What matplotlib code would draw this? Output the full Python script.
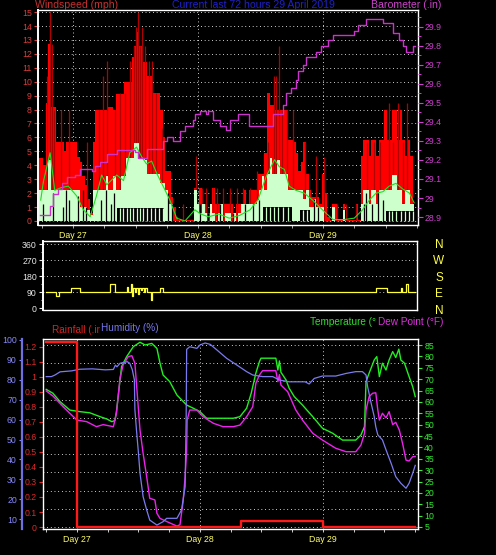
import numpy as np
import matplotlib
matplotlib.use('Agg')
import matplotlib.pyplot as plt
from matplotlib.transforms import blended_transform_factory

plt.rcParams['font.family'] = ['Liberation Sans', 'DejaVu Sans']

# ---------------- data (hours from Day 27 00:00) ----------------
# half-hourly wind samples starting at -6.5 h
wind_gust = [4.5, 4.5, 4.0, 8.5, 12.7, 8.2, 8.2, 5.7, 5.7, 5.7, 5.0, 5.7, 5.7,
             5.7, 5.7, 4.6, 4.2, 3.2, 2.6, 1.6, 0.6, 5.7, 8.0, 8.0, 8.0,
             8.0, 8.0, 8.2, 8.2, 8.0, 9.1, 9.1, 9.1, 10.0, 10.0, 10.0, 11.8,
             12.6, 13.6, 12.6, 11.4, 11.4, 10.4, 10.4, 9.2, 9.2, 9.2, 8.0, 6.0,
             3.6, 3.6, 1.7, 1.0, 0.3, 0.1, 0.1, 0.1, 0.1, 0.1, 0.1, 2.4,
             1.2, 2.4, 1.2, 1.2, 0.6, 1.2, 2.4, 1.2, 1.2, 0.6, 1.2, 1.2,
             1.2, 1.2, 0.6, 1.2, 1.2, 1.2, 2.2, 1.2, 2.2, 2.2, 2.2, 3.4,
             3.4, 3.4, 4.9, 9.2, 8.3, 8.3, 8.0, 8.0, 8.0, 8.0, 8.0, 5.8,
             5.8, 5.7, 4.9, 3.6, 4.2, 5.7, 3.4, 2.2, 1.7, 1.7, 1.7, 1.2,
             3.4, 2.0, 0.3, 0.1, 1.2, 1.2, 0.1, 0.1, 1.2, 0.1, 0.1, 0.1,
             0.1, 1.2, 0.1, 4.7, 5.8, 5.8, 4.7, 5.8, 5.8, 4.7, 5.8, 5.8,
             8.0, 5.8, 5.8, 8.0, 8.0, 5.8, 8.0, 5.8, 4.7, 5.8, 4.7, 1.2]
wind_speed = [2.2, 2.2, 2.2, 2.2, 4.4, 2.2, 2.2, 2.2, 2.2, 2.2, 2.2, 2.2, 2.2,
              2.2, 2.2, 2.2, 1.0, 1.0, 1.0, 0.8, 0.4, 2.2, 2.2, 2.2, 2.2,
              2.2, 3.2, 2.2, 2.2, 3.2, 2.2, 2.2, 3.2, 3.2, 4.5, 4.5, 4.5,
              5.6, 5.6, 4.5, 4.5, 4.4, 3.4, 3.4, 3.4, 3.4, 3.4, 2.7, 2.7,
              2.2, 1.2, 1.2, 0.0, 0.0, 0.0, 0.0, 0.0, 0.0, 0.0, 0.0, 2.2,
              1.2, 0.6, 1.2, 0.6, 0.0, 1.2, 0.6, 0.0, 0.6, 1.2, 0.0, 0.6,
              0.6, 0.0, 0.6, 0.0, 0.6, 1.2, 1.2, 1.2, 1.2, 1.2, 1.2, 1.5,
              2.2, 3.2, 2.2, 3.4, 4.5, 3.4, 3.4, 4.4, 3.4, 3.4, 3.4, 2.2,
              2.2, 2.2, 2.2, 2.2, 2.2, 1.6, 2.2, 1.0, 1.0, 1.6, 1.0, 1.0,
              1.0, 0.0, 0.0, 0.0, 1.0, 0.0, 0.0, 0.0, 0.8, 0.0, 0.0, 0.0,
              0.0, 0.0, 0.0, 1.2, 2.2, 2.2, 1.2, 2.2, 2.2, 1.2, 2.2, 2.2,
              2.2, 2.2, 2.2, 3.3, 3.3, 2.2, 2.2, 1.2, 2.2, 2.2, 1.2, 1.2]

peak_t = [-5.0, -4.4, -4.1, -3.6, -2.4, -0.8, 2.6, 5.0, 5.8, 6.6, 8.0, 9.0, 10.0, 11.0,
          11.7, 12.1, 12.4, 12.8, 13.2, 13.8, 14.5, 15.2, 16.0, 17.1, 21.2, 23.6,
          24.8, 25.6, 26.9, 27.7, 28.8, 30.1, 31.4, 32.7, 34.0, 35.3, 37.5, 38.5,
          39.0, 39.5, 40.2, 41.0, 42.2, 44.5, 46.6, 48.2, 50.6, 52.5, 54.4, 56.5,
          57.8, 59.0, 60.7, 61.5, 62.4, 63.3, 64.1]
peak_v = [10.4, 15.0, 12.7, 8.0, 8.0, 8.0, 5.7, 8.0, 10.4, 11.5, 8.0, 9.2, 9.2, 11.5,
          12.6, 13.9, 15.0, 12.6, 13.9, 12.6, 11.5, 11.5, 9.2, 6.7, 1.2, 4.7,
          2.4, 2.4, 2.4, 2.4, 2.4, 2.4, 2.4, 2.4, 2.4, 3.6, 5.7, 10.4,
          10.4, 12.6, 8.0, 8.0, 8.0, 5.7, 4.7, 4.6, 1.2, 1.2, 1.2, 5.7,
          5.7, 5.7, 8.5, 5.7, 8.5, 5.7, 8.5]

wind_avg_t = [-6.2, -5.7, -4.4, -3.5, -2.2, -0.9, 0.7, 2.0, 3.3, 4.5, 5.5, 6.5, 8.4, 9.7,
              10.9, 12.2, 13.2, 14.1, 15.1, 16.1, 17.3, 18.6, 19.9, 21.5, 23.4, 24.5,
              26.0, 28.0, 30.0, 32.0, 34.0, 35.5, 37.1, 38.7, 39.6, 40.6, 41.5, 42.8,
              44.4, 46.0, 47.9, 49.9, 52.0, 54.0, 55.6, 56.9, 58.2, 59.5, 60.7, 62.0,
              63.3, 64.6, 65.5]
wind_avg = [1.5, 2.8, 4.9, 2.2, 2.4, 2.5, 1.8, 0.8, 0.3, 1.8, 3.3, 2.6, 3.3, 2.9,
            4.9, 5.3, 4.6, 4.1, 4.3, 3.4, 2.5, 1.5, 0.2, 0.0, 0.8, 0.5,
            0.3, 0.5, 0.2, 0.4, 0.8, 1.5, 3.2, 4.4, 3.9, 3.7, 2.5, 2.2,
            2.0, 1.5, 0.8, 0.1, 0.1, 0.2, 0.8, 1.5, 2.0, 2.1, 2.5, 2.7,
            2.3, 2.0, 1.3]

lull_start = [8.5, 36.5, 43.5, 60.0]
lull_end = [17.5, 42.0, 45.5, 65.5]
lull_level = [0.9, 1.0, 0.8, 0.7]
streak_t = [9.0, 9.6, 10.3, 10.9, 11.6, 12.2, 12.9, 13.5, 14.3, 15.0, 15.8, 16.6, 17.2,
            37.0, 37.8, 38.6, 39.4, 40.3, 41.2, 44.2, 44.9,
            60.6, 61.2, 62.0, 62.9, 63.8, 64.6, 65.2]
gap_t = [-5.8, -3.9, -2.0, -1.3, -0.7, 0.9, 1.9, 2.5, 5.4, 6.3, 7.3, 7.9,
         18.3, 19.0, 24.3, 25.9, 28.2, 30.7, 33.0, 34.6, 35.8, 46.2, 47.1,
         55.9, 56.3, 57.5, 58.5, 59.5]
gap_v = [1.2, 2.0, 1.0, 2.2, 1.5, 1.8, 2.2, 1.0, 1.5, 2.2, 1.2, 2.0,
         2.0, 1.2, 1.2, 0.6, 1.2, 0.6, 1.2, 1.2, 1.5, 1.6, 1.0,
         1.2, 2.0, 1.2, 2.0, 1.5]

baro_t = [-6.3, -4.4, -3.8, -2.9, -2.1, -1.2, 0.4, 1.3, 3.6, 4.2, 5.2, 6.5, 8.4, 11.9,
          12.5, 14.2, 17.3, 18.0, 19.2, 20.5, 21.5, 23.0, 23.4, 24.4, 25.5, 25.9,
          26.9, 28.2, 29.4, 30.1, 31.7, 33.8, 38.4, 40.3, 40.9, 41.9, 42.8, 43.2,
          44.2, 44.7, 46.7, 47.6, 49.0, 49.9, 54.0, 54.7, 56.3, 59.5, 61.4, 62.6,
          63.4, 63.9, 65.3, 65.7]
baro_p = [28.91, 28.96, 29.02, 29.05, 29.08, 29.11, 29.12, 29.15, 29.14, 29.17, 29.19,
          29.23, 29.25, 29.24, 29.21, 29.26, 29.30, 29.32, 29.30, 29.35, 29.38, 29.41,
          29.44, 29.46, 29.44, 29.46, 29.41, 29.38, 29.36, 29.41, 29.44, 29.38, 29.44,
          29.49, 29.55, 29.58, 29.62, 29.67, 29.70, 29.74, 29.77, 29.80, 29.83, 29.86,
          29.88, 29.91, 29.94, 29.92, 29.87, 29.83, 29.80, 29.77, 29.80, 29.80]

dir_t = [-6.0, -4.1, -3.5, -1.2, 0.6, 6.4, 7.4, 9.7, 9.9, 10.6, 10.8, 11.0, 11.3,
         11.6, 11.9, 12.1, 12.4, 12.7, 13.0, 13.3, 13.6, 14.5, 14.7, 16.2, 16.8,
         58.3, 60.5, 63.2, 63.5, 64.2, 64.5, 66.0]
dir_deg = [90, 68, 90, 113, 90, 135, 90, 118, 90, 135, 68, 112, 90,
           112, 80, 112, 100, 112, 90, 112, 90, 45, 90, 113, 90,
           113, 90, 113, 90, 135, 90, 90]

rain_t = [-6.05, 0.0, 32.0, 48.0, 66.0]
rain_in = [1.23, 0.0, 0.04, 0.0, 0.0]

hum_t = [-6.0, -5.0, -4.3, -3.3, -1.0, 0.5, 3.0, 5.5, 7.1, 7.5, 7.8, 8.4, 9.8, 10.3,
         10.8, 11.2, 11.3, 11.6, 12.0, 12.3, 12.9, 13.6, 14.2, 15.6, 16.8, 17.5,
         19.5, 20.4, 21.1, 21.3, 21.4, 22.0, 23.4, 24.0, 25.0, 26.0, 27.3, 29.2,
         31.2, 33.1, 34.3, 36.2, 38.2, 39.5, 41.4, 44.5, 45.3, 46.3, 47.9, 50.5,
         52.5, 54.4, 55.7, 56.4, 56.7, 57.4, 58.0, 58.3, 58.7, 59.6, 60.3, 61.3,
         62.2, 63.2, 64.2, 64.8, 65.5, 66.0]
hum_pct = [81.6, 81.6, 82.4, 84.0, 84.5, 85.3, 85.5, 85.0, 85.2, 87.4, 86.5, 88.3, 89.1, 88.3,
           85.0, 80.0, 65.0, 55.0, 43.0, 33.0, 21.3, 14.6, 9.5, 7.0, 8.7, 10.4,
           10.4, 14.6, 26.3, 60.0, 95.3, 96.6, 95.8, 97.5, 98.5, 97.8, 95.0, 90.8,
           87.4, 84.1, 82.4, 81.6, 81.6, 79.9, 79.0, 79.0, 77.9, 80.7, 81.9, 81.9,
           83.2, 84.1, 84.1, 82.4, 76.6, 68.2, 61.5, 56.4, 52.3, 49.8, 44.8, 38.0,
           31.3, 28.0, 25.5, 28.0, 33.0, 37.0]

temp_t = [-6.0, -4.7, -3.3, -1.4, 0.6, 2.5, 4.5, 5.8, 6.8, 7.4, 7.7, 8.4, 8.7, 9.7,
          11.0, 12.3, 13.3, 14.6, 15.6, 16.2, 16.8, 18.1, 19.5, 21.4, 22.7, 24.0,
          25.3, 27.9, 30.5, 31.8, 33.1, 34.0, 34.9, 35.6, 35.9, 38.8, 39.2, 39.5,
          39.8, 40.8, 41.4, 42.4, 44.0, 46.0, 47.9, 49.9, 51.8, 54.4, 55.4, 56.1,
          56.4, 57.0, 58.0, 58.5, 59.0, 59.6, 60.3, 60.9, 61.6, 62.2, 62.8, 63.2,
          63.9, 64.8, 65.5, 66.0]
temp_f = [65.5, 63.8, 60.1, 56.4, 55.7, 55.2, 53.5, 52.5, 51.3, 51.8, 55.7, 69.6, 75.5, 79.9,
          84.3, 86.2, 85.0, 85.7, 83.5, 77.0, 71.8, 68.9, 63.0, 58.6, 57.2, 55.7,
          52.8, 52.8, 52.8, 53.5, 57.2, 63.8, 72.6, 77.7, 79.2, 79.2, 74.0, 78.0,
          73.0, 69.6, 66.0, 62.3, 58.6, 53.5, 48.4, 46.2, 43.2, 43.2, 45.4, 49.1,
          68.9, 72.6, 78.4, 79.9, 71.1, 77.0, 74.0, 78.4, 82.1, 79.5, 83.2, 78.4,
          77.0, 71.1, 66.7, 62.3]

dew_t = [-6.0, -4.7, -2.7, -1.4, 0.0, 1.9, 3.8, 5.1, 7.1, 7.7, 8.4, 9.0, 10.0, 10.7,
         11.3, 11.6, 12.3, 12.9, 13.6, 14.2, 15.2, 15.6, 16.2, 17.5, 19.5, 20.1,
         20.7, 21.1, 21.4, 21.5, 22.0, 23.4, 24.6, 26.6, 28.5, 30.5, 31.8, 33.1,
         34.3, 34.9, 35.6, 36.2, 38.8, 39.2, 39.5, 39.8, 41.1, 42.7, 44.0, 46.0,
         47.9, 50.5, 52.5, 54.4, 55.4, 56.1, 56.4, 57.0, 57.7, 58.3, 58.7, 59.0,
         59.6, 60.3, 60.9, 61.6, 62.2, 62.9, 63.6, 64.2, 64.8, 65.5, 66.0]
dew_f = [64.8, 62.6, 57.9, 55.0, 52.0, 51.3, 49.1, 50.0, 49.1, 55.0, 70.4, 76.2, 79.9, 80.3,
         77.0, 68.2, 47.6, 37.4, 27.1, 17.6, 16.9, 11.0, 8.8, 7.4, 5.4, 6.0,
         16.1, 27.1, 38.8, 52.0, 56.4, 56.4, 53.5, 50.6, 49.1, 49.1, 49.8, 53.5,
         57.9, 68.2, 71.8, 73.7, 73.7, 68.9, 72.0, 67.4, 64.5, 56.4, 52.0, 46.2,
         43.2, 39.6, 38.1, 38.1, 41.0, 46.2, 56.4, 62.3, 63.8, 64.0, 56.4, 52.0,
         55.0, 53.0, 55.7, 50.0, 51.0, 47.6, 41.0, 34.4, 34.0, 35.9, 36.0]

day_hours = [0, 24, 48]
day_labels = ['Day 27', 'Day 28', 'Day 29']

# ---------------- figure ----------------
W, H = 496, 555
fig = plt.figure(figsize=(W / 100, H / 100), dpi=100, facecolor='black')
DOT = (0, (0.8, 3.0))
FS = 6.3


def px_axes(left, top, right, bottom):
    ax = fig.add_axes([left / W, 1 - bottom / H, (right - left) / W, (bottom - top) / H])
    ax.set_facecolor('black')
    for s in ax.spines.values():
        s.set_color('white')
        s.set_linewidth(1.0)
    return ax


def fy(y):
    return 1 - y / H


def fx(x):
    return x / W


def day_text(ax, ypx):
    tr = blended_transform_factory(ax.transData, fig.transFigure)
    for h, lab in zip(day_hours, day_labels):
        ax.text(h, fy(ypx), lab, transform=tr, ha='center', va='baseline',
                color='#ffff66', fontsize=FS)


# ---- top: wind speed + barometer ----
ax1 = px_axes(38, 10, 418, 225)
ax1.set_xlim(-6.72, 66.24)
ax1.set_ylim(-0.29, 15.15)
for v in range(0, 16):
    ax1.axhline(v, color='white', lw=0.7, ls=DOT, zorder=0.5)
for h in day_hours:
    ax1.axvline(h, color='white', lw=0.7, ls=DOT, zorder=0.5)

tw = -6.5 + 0.5 * np.arange(len(wind_gust))
ax1.fill_between(tw, 0, wind_gust, step='mid', color='#ff0000', lw=0, zorder=1)
ax1.vlines(peak_t, 0, peak_v, color='#b00000', lw=0.9, zorder=1.1)
ax1.fill_between(tw, 0, wind_speed, step='mid', color='#ccffcc', lw=0, zorder=1.2)
for a, b, lv in zip(lull_start, lull_end, lull_level):
    ax1.fill_between([a, b], 0, lv, color='black', lw=0, zorder=1.3)
streak_v = [lv for s in streak_t
            for a, b, lv in zip(lull_start, lull_end, lull_level) if a <= s <= b]
ax1.vlines(streak_t, 0, streak_v, color='#ccffcc', lw=0.9, zorder=1.4)
ax1.vlines(gap_t, 0, gap_v, color='black', lw=0.9, zorder=1.4)
ax1.plot(wind_avg_t, wind_avg, color='#22dd22', lw=0.8, zorder=1.5)

ax1.set_yticks(range(0, 16))
ax1.tick_params(axis='y', colors='#e03a3a', labelsize=FS, length=3, width=0.8,
                direction='out', pad=1.5)
ax1.set_xticks(range(-6, 67, 6))
ax1.set_xticklabels([])
ax1.tick_params(axis='x', colors='#aaaaaa', length=2.5, width=0.7, direction='out')
ax1.spines['left'].set_linewidth(1.4)
day_text(ax1, 238)

ax1b = ax1.twinx()
ax1b.set_ylim(28.858, 29.989)
ax1b.step(baro_t, baro_p, where='post', color='#cc33cc', lw=1.0)
ax1b.set_yticks([28.9, 29.0, 29.1, 29.2, 29.3, 29.4, 29.5, 29.6, 29.7, 29.8, 29.9])
ax1b.set_yticklabels(['28.9', '29', '29.1', '29.2', '29.3', '29.4', '29.5',
                      '29.6', '29.7', '29.8', '29.9'])
ax1b.set_yticks(np.arange(28.95, 29.96, 0.1), minor=True)
ax1b.tick_params(axis='y', which='major', colors='#d040d0', labelsize=FS, length=3.5,
                 width=0.8, direction='out', pad=1.5)
ax1b.tick_params(axis='y', which='minor', colors='#d040d0', length=2, width=0.7)
for s in ax1b.spines.values():
    s.set_visible(False)

fig.text(fx(35), fy(8.5), 'Windspeed (mph)', color='#c83030', fontsize=7.6, va='baseline')
fig.text(fx(172), fy(8.5), 'Current last 72 hours 29 April 2019', color='#2020c8',
         fontsize=7.6, va='baseline')
fig.text(fx(371), fy(8.5), 'Barometer (.in)', color='#cc44cc', fontsize=7.6, va='baseline')

# ---- middle: wind direction ----
ax2 = px_axes(43, 241, 417, 310)
ax2.set_xlim(-6.63, 66.34)
ax2.set_ylim(-9.6, 378)
for v in [90, 180, 270, 360]:
    ax2.axhline(v, color='white', lw=0.7, ls=DOT, zorder=0.5)
ax2.step(dir_t, dir_deg, where='post', color='#ffff33', lw=0.9)
ax2.set_yticks([0, 90, 180, 270, 360])
ax2.set_yticks(range(45, 360, 90), minor=True)
ax2.tick_params(axis='y', which='major', colors='#e8e8e8', labelsize=FS, length=3,
                width=0.8, pad=1.5)
ax2.tick_params(axis='y', which='minor', colors='#e8e8e8', length=1.5, width=0.6)
ax2.set_xticks([])
ax2.spines['left'].set_linewidth(1.4)
for lab, ypx in zip(['N', 'W', 'S', 'E', 'N'], [245, 261, 278, 294, 311]):
    fig.text(fx(439), fy(ypx), lab, color='#ffff44', fontsize=8.5, ha='center', va='center')

# ---- bottom: rain, humidity, temperature, dew point ----
ax3 = px_axes(43, 339, 418, 529)
ax3.set_xlim(-6.63, 66.54)
ax3.set_ylim(-0.0133, 1.253)
ax3t = ax3.twinx()
ax3t.set_ylim(4.12, 87.64)
ax3h = ax3.twinx()
ax3h.set_ylim(5.03, 100.5)

ax3t.set_zorder(1)
ax3h.set_zorder(2)
ax3.set_zorder(3)
ax3.patch.set_visible(False)
ax3b = fig.add_axes(ax3.get_position(), zorder=0)
ax3b.set_facecolor('black')
ax3b.axis('off')

for v in np.arange(5, 86, 8):
    ax3t.axhline(v, color='white', lw=0.7, ls=DOT, zorder=0.5)
for h in day_hours:
    ax3t.axvline(h, color='white', lw=0.7, ls=DOT, zorder=0.5)

ax3t.plot(temp_t, temp_f, color='#22ee22', lw=1.0)
ax3t.plot(dew_t, dew_f, color='#ee22ee', lw=1.0)
ax3h.plot(hum_t, hum_pct, color='#7b7bf0', lw=0.9)
ax3.step(rain_t, rain_in, where='post', color='#ff1a1a', lw=1.7)

ax3.set_yticks(np.round(np.arange(0, 1.21, 0.1), 1))
ax3.set_yticklabels(['0', '0.1', '0.2', '0.3', '0.4', '0.5', '0.6', '0.7', '0.8',
                     '0.9', '1', '1.1', '1.2'])
ax3.tick_params(axis='y', colors='#dd2a2a', labelsize=FS, length=3, width=0.8, pad=1.5)
ax3.set_xticks(range(-6, 67, 6))
ax3.set_xticklabels([])
ax3.tick_params(axis='x', colors='#cccccc', length=2.5, width=0.7, direction='out')
day_text(ax3, 542)

ax3t.set_yticks(range(5, 86, 5))
ax3t.tick_params(axis='y', colors='#33ee33', labelsize=FS, length=3, width=0.8, pad=1.5)
for s in ax3t.spines.values():
    s.set_visible(False)

ax3h.yaxis.set_ticks_position('left')
ax3h.spines['left'].set_position(('axes', (22 - 43) / 375))
ax3h.spines['left'].set_visible(True)
ax3h.spines['left'].set_color('#6f6fe0')
ax3h.spines['left'].set_linewidth(1.6)
for k in ['right', 'top', 'bottom']:
    ax3h.spines[k].set_visible(False)
ax3h.set_yticks(range(10, 101, 10))
ax3h.tick_params(axis='y', colors='#8888ff', labelsize=FS, length=2.5, width=0.8, pad=1.2)

fig.text(fx(52), fy(333), 'Rainfall (.ir', color='#e02020', fontsize=7.2, va='baseline')
fig.text(fx(101), fy(331), 'Humidity (%)', color='#7777ee', fontsize=7.2, va='baseline')
fig.text(fx(310), fy(325), 'Temperature (\u00b0', color='#33dd33', fontsize=7.2, va='baseline')
fig.text(fx(378), fy(325), 'Dew Point (\u00b0F)', color='#dd33dd', fontsize=7.2, va='baseline')

fig.savefig('out.png', dpi=100, facecolor='black')
